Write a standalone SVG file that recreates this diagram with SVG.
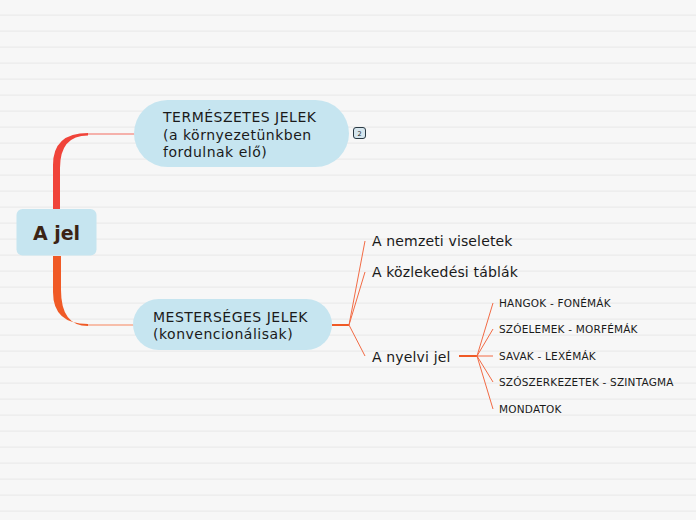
<svg xmlns="http://www.w3.org/2000/svg" width="696" height="520" viewBox="0 0 696 520">
<defs>
<pattern id="lines" x="0" y="0" width="696" height="16" patternUnits="userSpaceOnUse">
<rect x="0" y="0" width="696" height="16" fill="#f7f7f7"/>
<rect x="0" y="14.5" width="696" height="1.2" fill="#ebebeb"/>
</pattern>
</defs>
<style>
.node{fill:#c6e5f0}
.t{font-family:"DejaVu Sans",Verdana,sans-serif;fill:#1a1a1a}
.main{font-size:14px;letter-spacing:0.5px}
.sub{font-size:14px;letter-spacing:0.15px}
.leaf{font-size:10.5px;letter-spacing:0.2px}
.thin{stroke:#f26b45;stroke-width:1;fill:none}
</style>
<rect width="696" height="520" fill="url(#lines)"/>
<g id="connectors">
<path d="M53,209 L53,165 Q53,133 88,133 L88,135.5 Q60,135.5 60,168 L60,209 Z" fill="#f0443a"/>
<line x1="88" y1="134" x2="135" y2="134" stroke="#f59a92" stroke-width="1.5"/>
<path d="M53,256 L53,292 Q53,324 88,324 L88,326 Q61,326 61,290 L61,256 Z" fill="#f05a26"/>
<line x1="88" y1="325" x2="134" y2="325" stroke="#f7ab90" stroke-width="1.5"/>
<line x1="332" y1="325" x2="349" y2="325" stroke="#f05a26" stroke-width="2"/>
<line x1="349" y1="325" x2="365" y2="241" class="thin"/>
<line x1="349" y1="325" x2="365" y2="272" class="thin"/>
<line x1="349" y1="325" x2="365" y2="356" class="thin"/>
<line x1="459" y1="356" x2="477" y2="356" stroke="#f05a26" stroke-width="2"/>
<line x1="477" y1="356" x2="493" y2="303" class="thin"/>
<line x1="477" y1="356" x2="493" y2="329" class="thin"/>
<line x1="477" y1="356" x2="493" y2="356" class="thin"/>
<line x1="477" y1="356" x2="493" y2="382" class="thin"/>
<line x1="477" y1="356" x2="493" y2="409" class="thin"/>
</g>
<g id="root">
<rect x="16.5" y="209" width="80" height="46.5" rx="6" class="node"/>
<text x="56.5" y="240" text-anchor="middle" font-family="DejaVu Sans,Verdana,sans-serif" font-size="19" font-weight="bold" fill="#3b2314">A jel</text>
</g>
<g id="n1">
<rect x="134" y="100" width="215" height="67" rx="33.5" class="node"/>
<text class="t main" x="163" y="122">TERMÉSZETES JELEK</text>
<text class="t main" x="163" y="139.5">(a környezetünkben</text>
<text class="t main" x="163" y="157">fordulnak elő)</text>
</g>
<g id="badge">
<rect x="353.5" y="127.5" width="12" height="11" rx="2.5" fill="#d6e6ee" stroke="#2a3a44" stroke-width="1"/>
<text x="359.5" y="135.5" text-anchor="middle" font-family="DejaVu Sans,sans-serif" font-size="6.5" fill="#222">2</text>
</g>
<g id="n2">
<rect x="133" y="299" width="199" height="51" rx="25.5" class="node"/>
<text class="t main" x="153" y="321.5">MESTERSÉGES JELEK</text>
<text class="t main" x="153" y="339">(konvencionálisak)</text>
</g>
<g id="n3"><text class="t sub" x="372" y="246">A nemzeti viseletek</text></g>
<g id="n4"><text class="t sub" x="372" y="277">A közlekedési táblák</text></g>
<g id="n5"><text class="t sub" x="372" y="362">A nyelvi jel</text></g>
<g id="n6"><text class="t leaf" x="499" y="306.5">HANGOK - FONÉMÁK</text></g>
<g id="n7"><text class="t leaf" x="499" y="333">SZÓELEMEK - MORFÉMÁK</text></g>
<g id="n8"><text class="t leaf" x="499" y="359.5">SAVAK - LEXÉMÁK</text></g>
<g id="n9"><text class="t leaf" x="499" y="386">SZÓSZERKEZETEK - SZINTAGMA</text></g>
<g id="n10"><text class="t leaf" x="499" y="412.5">MONDATOK</text></g>
</svg>
